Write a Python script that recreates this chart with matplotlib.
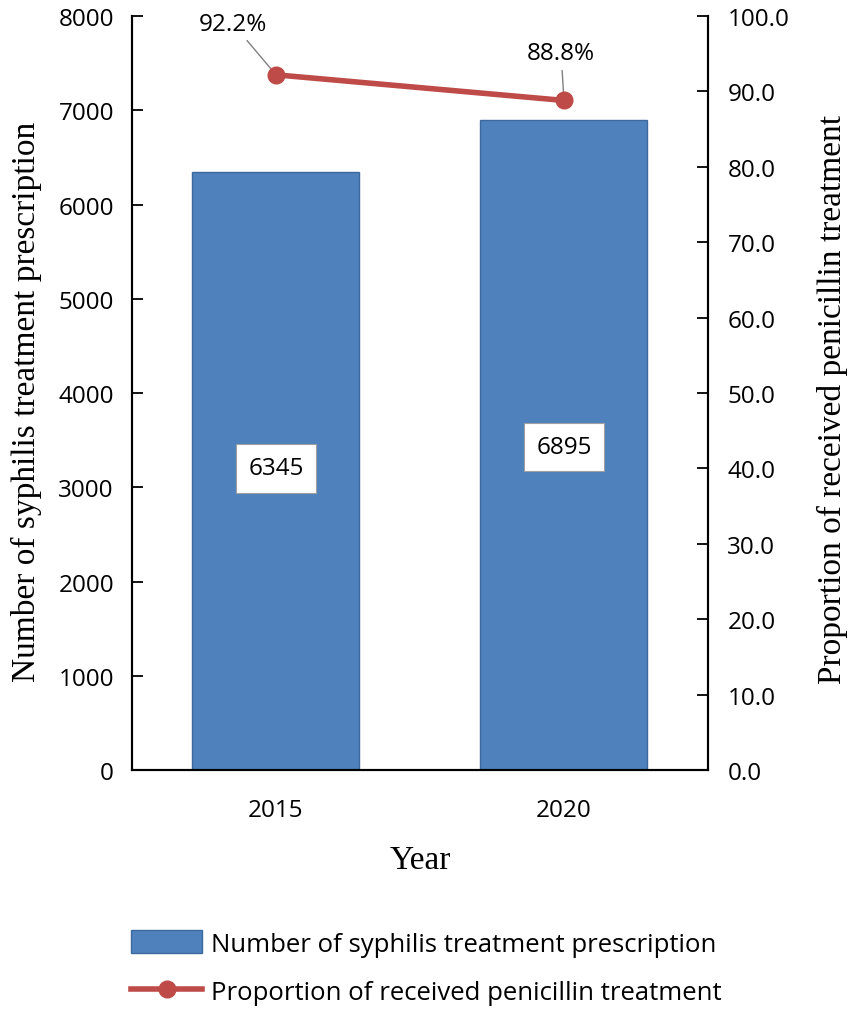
import matplotlib
matplotlib.use("Agg")
import matplotlib.pyplot as plt
from matplotlib.lines import Line2D
from matplotlib.patches import Patch

# data
years = ["2015", "2020"]
prescriptions = [6345, 6895]
penicillin_pct = [92.2, 88.8]

left_ticks = [0, 1000, 2000, 3000, 4000, 5000, 6000, 7000, 8000]
right_ticks = [0, 10, 20, 30, 40, 50, 60, 70, 80, 90, 100]

bar_color = "#4F81BD"
bar_edge = "#3C6A9E"
line_color = "#BE4B48"
sans = "Open Sans"
serif = "Liberation Serif"

fig = plt.figure(figsize=(8.51, 10.12), dpi=100)
ax = fig.add_axes([0.1551, 0.2381, 0.6768, 0.7451])
ax2 = ax.twinx()

x = [0, 1]
ax.bar(x, prescriptions, width=0.58, color=bar_color, edgecolor=bar_edge, linewidth=1, zorder=2)
ax.set_xlim(-0.5, 1.5)
ax.set_ylim(0, 8000)
ax.set_yticks(left_ticks)
ax.set_xticks(x)
ax.set_xticklabels(years, fontsize=17.5, family=sans)
ax.tick_params(axis="x", length=0, pad=20)
ax.tick_params(axis="y", direction="in", length=8, width=1.3, pad=13, labelsize=17.5)
for lab in ax.get_yticklabels():
    lab.set_family(sans)
ax.yaxis.get_major_ticks()[0].tick1line.set_visible(False)

ax.set_xlabel("Year", family=serif, fontsize=24, labelpad=16)
ax.set_ylabel("Number of syphilis treatment prescription", family=serif, fontsize=24, labelpad=12)
ax.yaxis.label.set_y(0.489)

# value boxes inside bars
box_y = [3200, 3430]
for xi, v, by in zip(x, prescriptions, box_y):
    ax.text(xi, by, str(v), ha="center", va="center", fontsize=17.5, family=sans,
            bbox=dict(boxstyle="square,pad=0.5", fc="white", ec="#A0A0A0", lw=0.8), zorder=4)

ax2.plot(x, penicillin_pct, color=line_color, lw=4, marker="o", ms=12,
         mfc=line_color, mec=line_color, zorder=5)
ax2.set_ylim(0, 100)
ax2.set_yticks(right_ticks)
ax2.set_yticklabels([f"{t:.1f}" for t in right_ticks])
ax2.tick_params(axis="y", direction="in", length=8, width=1.3, pad=14, labelsize=17.5)
for lab in ax2.get_yticklabels():
    lab.set_family(sans)
ax2.yaxis.get_major_ticks()[0].tick2line.set_visible(False)
ax2.set_ylabel("Proportion of received penicillin treatment", family=serif, fontsize=24, labelpad=20)
ax2.yaxis.label.set_y(0.493)

# percentage labels with leader lines
offsets = [(-0.15, 5.2), (-0.01, 4.7)]
for xi, p, (dx, dy) in zip(x, penicillin_pct, offsets):
    ax2.annotate(f"{p}%", xy=(xi, p), xytext=(xi + dx, p + dy), ha="center", va="bottom",
                 fontsize=17.5, family=sans,
                 arrowprops=dict(arrowstyle="-", color="#808080", lw=1, shrinkA=2, shrinkB=6))

for a in (ax, ax2):
    a.spines["top"].set_visible(False)
    for s in ("left", "right", "bottom"):
        a.spines[s].set_linewidth(1.5)

handles = [Patch(facecolor=bar_color, edgecolor=bar_edge),
           Line2D([0], [0], color=line_color, lw=4, marker="o", ms=12)]
labels = ["Number of syphilis treatment prescription",
          "Proportion of received penicillin treatment"]
fig.legend(handles, labels, loc="center left", bbox_to_anchor=(0.127, 0.043),
           frameon=False, prop={"family": sans, "size": 18.5}, handlelength=2.75,
           handleheight=1.0, labelspacing=0.85, handletextpad=0.35)

fig.savefig("out.png", dpi=100)
